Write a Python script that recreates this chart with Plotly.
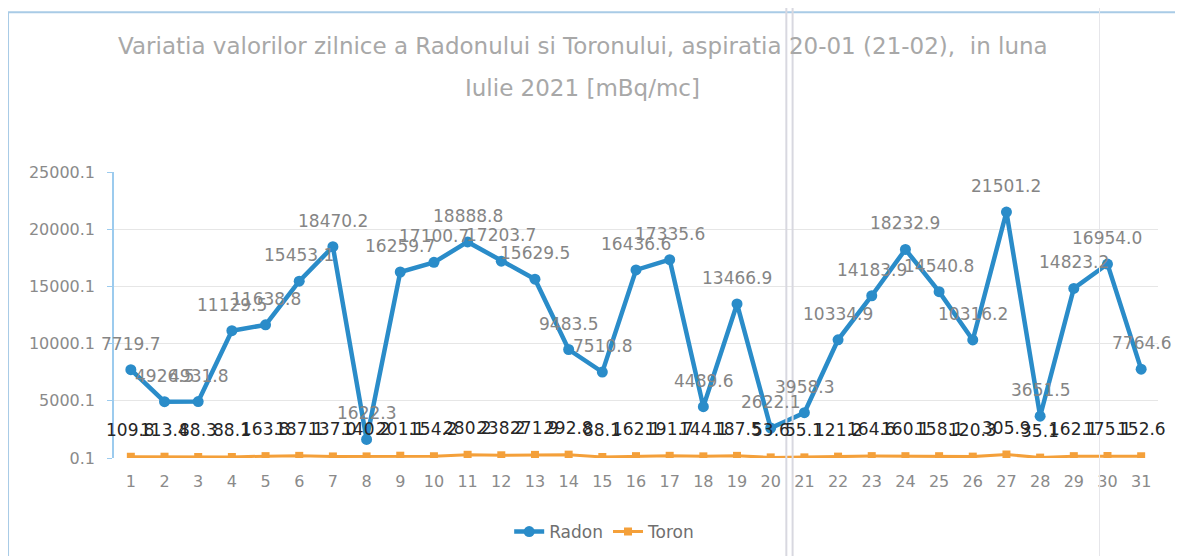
import plotly.graph_objects as go

days = list(range(1, 32))
radon = [7719.7, 4926.5, 4931.8, 11129.5, 11638.8, 15453.1, 18470.2, 1622.3, 16259.7, 17100.7,
         18888.8, 17203.7, 15629.5, 9483.5, 7510.8, 16436.6, 17335.6, 4489.6, 13466.9, 2622.1,
         3958.3, 10334.9, 14183.9, 18232.9, 14540.8, 10316.2, 21501.2, 3651.5, 14823.2, 16954.0,
         7764.6]
toron = [109.8, 113.4, 88.3, 88.1, 163.8, 187.1, 137.0, 140.2, 201.1, 154.2,
         280.2, 238.2, 271.9, 292.8, 88.1, 162.1, 191.7, 144.1, 187.5, 53.6,
         55.1, 121.2, 164.6, 160.1, 158.1, 120.3, 305.9, 35.1, 162.1, 175.1,
         152.6]
y_ticks = [0.1, 5000.1, 10000.1, 15000.1, 20000.1, 25000.1]
title1 = "Variatia valorilor zilnice a Radonului si Toronului, aspiratia 20-01 (21-02),  in luna"
title2 = "Iulie 2021 [mBq/mc]"

FONT = "DejaVu Sans, Verdana, sans-serif"
BLUE = "#2a8cc9"
ORANGE = "#f4a03a"

fig = go.Figure()
fig.add_trace(go.Scatter(
    x=days, y=radon, name="Radon", mode="lines+markers",
    line=dict(color=BLUE, width=4.5),
    marker=dict(symbol="circle", size=11, color=BLUE),
))
fig.add_trace(go.Scatter(
    x=days, y=toron, name="Toron", mode="lines+markers",
    line=dict(color=ORANGE, width=3),
    marker=dict(symbol="square", size=8, color=ORANGE),
))

annotations = []
for d, v in zip(days, radon):
    annotations.append(dict(x=d, y=v, xref="x", yref="y", text=f"{v:.1f}", showarrow=False,
                            yshift=26, font=dict(family=FONT, size=17, color="#858585")))
for d, v in zip(days, toron):
    annotations.append(dict(x=d, y=v, xref="x", yref="y", text=f"{v:.1f}", showarrow=False,
                            yshift=27, font=dict(family=FONT, size=17, color="#262626")))
annotations += [
    dict(text=title1, xref="paper", yref="paper", x=0.449, y=1.4406, showarrow=False,
         font=dict(family=FONT, size=23, color="#a8a8a8"), xanchor="center", yanchor="middle"),
    dict(text=title2, xref="paper", yref="paper", x=0.449, y=1.2937, showarrow=False,
         font=dict(family=FONT, size=23, color="#a8a8a8"), xanchor="center", yanchor="middle"),
]

fig.update_layout(
    width=1183, height=556,
    margin=dict(l=106, r=33, t=164, b=106),
    paper_bgcolor="white", plot_bgcolor="white",
    font=dict(family=FONT, color="#8a8a8a"),
    showlegend=True,
    legend=dict(orientation="h", x=0.47, xanchor="center", y=-0.259, yanchor="middle",
                font=dict(family=FONT, size=17, color="#6f6f6f")),
    xaxis=dict(type="linear", range=[0.5, 31.5], tickvals=days, ticktext=[str(d) for d in days],
               showgrid=False, showline=False, zeroline=False, ticks="",
               ticklabelstandoff=12,
               tickfont=dict(family=FONT, size=16, color="#8a8a8a")),
    yaxis=dict(range=[0.1, 25000.1], tickvals=y_ticks, ticktext=[f"{v:.1f}" for v in y_ticks],
               showgrid=True, gridcolor="#e6e6e6", gridwidth=1, zeroline=False,
               showline=True, linecolor="#9ccbee", linewidth=1.5, ticks="outside",
               tickcolor="#9ccbee", ticklen=5, ticklabelstandoff=9,
               tickfont=dict(family=FONT, size=16, color="#8a8a8a")),
    annotations=annotations,
    shapes=[
        dict(type="rect", xref="paper", yref="paper", x0=-0.1015, x1=1.05, y0=-0.4, y1=1.559,
             line=dict(color="#a9cbe6", width=2), layer="below"),
        dict(type="line", xref="paper", yref="paper", x0=0.644, x1=0.644, y0=-0.4, y1=1.6,
             line=dict(color="#d8d8e0", width=2)),
        dict(type="line", xref="paper", yref="paper", x0=0.650, x1=0.650, y0=-0.4, y1=1.6,
             line=dict(color="#d8d8e0", width=2)),
        dict(type="line", xref="paper", yref="paper", x0=0.944, x1=0.944, y0=-0.4, y1=1.6,
             line=dict(color="#e6e6ea", width=1)),
    ],
)

fig.write_html("out.html")
